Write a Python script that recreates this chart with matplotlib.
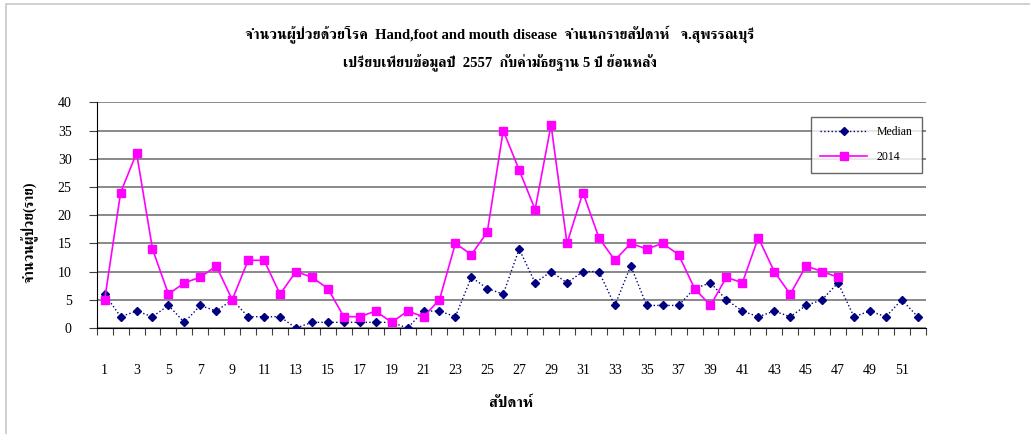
import matplotlib

matplotlib.use("Agg")
import matplotlib.pyplot as plt
from matplotlib import font_manager
from matplotlib.ft2font import FT2Font
from matplotlib.patches import Rectangle

weeks = list(range(1, 53))
median = [6, 2, 3, 2, 4, 1, 4, 3, 5, 2, 2, 2, 0, 1, 1, 1, 1, 1, 1, 0,
          3, 3, 2, 9, 7, 6, 14, 8, 10, 8, 10, 10, 4, 11, 4, 4, 4, 7, 8, 5,
          3, 2, 3, 2, 4, 5, 8, 2, 3, 2, 5, 2]
cases_2014 = [5, 24, 31, 14, 6, 8, 9, 11, 5, 12, 12, 6, 10, 9, 7, 2, 2, 3, 1, 3,
              2, 5, 15, 13, 17, 35, 28, 21, 36, 15, 24, 16, 12, 15, 14, 15, 13, 7, 4, 9,
              8, 16, 10, 6, 11, 10, 9]
x_tick_labels = [str(w) for w in range(1, 53, 2)]

title = ("จำนวนผู้ป่วยด้วยโรค  Hand,foot and mouth disease  จำแนกรายสัปดาห์   จ.สุพรรณบุรี\n"
         "เปรียบเทียบข้อมูลปี  2557  กับค่ามัธยฐาน 5 ปี ย้อนหลัง")


def thai_family():
    # pick an installed family that can draw Thai script
    found = []
    for entry in font_manager.fontManager.ttflist:
        try:
            if 0x0E01 in FT2Font(entry.fname).get_charmap():
                found.append(entry.name)
        except Exception:
            continue
    for name in found:
        if "Serif" in name:
            return name
    return found[0] if found else "DejaVu Sans"


THAI = thai_family()
FAMILY = ["Liberation Serif", THAI, "DejaVu Sans"]

fig = plt.figure(figsize=(10.3, 4.34), dpi=100)
fig.patches.append(Rectangle((6 / 1030, -0.1), 1.2, 1 - 4 / 434 + 0.1, transform=fig.transFigure,
                             fill=False, edgecolor="#c8c8c8", linewidth=1.2))
ax = fig.add_axes([96.7 / 1030, 1 - 328 / 434, 829 / 1030, 225.7 / 434])

ax.plot(weeks, median, color="#000080", linestyle=":", linewidth=1.0,
        marker="D", markersize=4, label="Median", zorder=3)
ax.plot(weeks[:len(cases_2014)], cases_2014, color="#ff00ff", linewidth=1.2,
        marker="s", markersize=5.5, label="2014", zorder=4)

ax.set_xlim(0.5, 52.5)
ax.set_ylim(0, 40)
ax.set_yticks(range(0, 41, 5))
ax.set_yticklabels([str(v) for v in range(0, 41, 5)], family=FAMILY, fontsize=10)
ax.set_xticks([w + 0.5 for w in range(0, 53)], minor=False)
ax.set_xticklabels([])
ax.set_xticks(list(range(1, 53, 2)), minor=True)
ax.set_xticklabels(x_tick_labels, minor=True, family=FAMILY, fontsize=10)
ax.tick_params(axis="x", which="major", direction="out", length=5, color="#404040")
ax.tick_params(axis="x", which="minor", length=0, pad=26)
ax.tick_params(axis="y", direction="out", length=6, color="#404040", pad=12)
ax.grid(axis="y", color="#808080", linewidth=1.3)
ax.set_axisbelow(True)
for side in ("top", "right"):
    ax.spines[side].set_visible(False)
for side in ("left", "bottom"):
    ax.spines[side].set_color("black")

ax.set_xlabel("สัปดาห์", family=FAMILY, fontsize=11, fontweight="bold", labelpad=14)
fig.text(30 / 1030, 1 - 232 / 434, "จำนวนผู้ป่วย(ราย)", rotation=90, ha="center", va="center",
         family=FAMILY, fontsize=10, fontweight="bold")
fig.text(500 / 1030, 1 - 49 / 434, title, ha="center", va="center", family=FAMILY,
         fontsize=10.5, fontweight="bold", linespacing=1.75)

legend = ax.legend(loc="upper right", bbox_to_anchor=(0.9955, 0.935), prop={"family": FAMILY, "size": 8.5},
                   frameon=True, fancybox=False, edgecolor="#404040", handlelength=4.0,
                   labelspacing=1.1, borderpad=0.8, borderaxespad=0)
legend.get_frame().set_linewidth(1.0)

fig.savefig("out.png", dpi=100)
